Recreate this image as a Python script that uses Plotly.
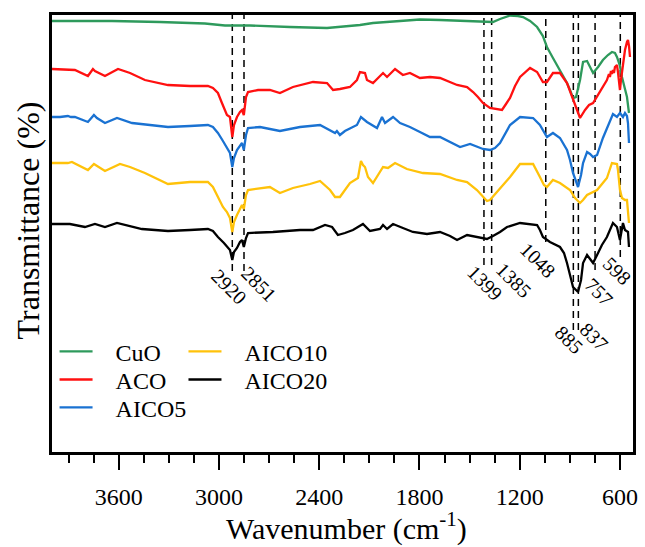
import plotly.graph_objects as go

# ---------------- data ----------------
cuo_wn = [3999, 3640, 3353, 3084, 2964, 2814, 2575, 2353, 2156, 2078, 1916, 1797, 1677, 1497, 1420, 1360, 1318,
          1258, 1210, 1180, 1138, 1096, 1061, 1037, 1001, 959, 917, 899, 881, 863, 839, 821, 797, 779, 761, 731,
          702, 672, 648, 630, 618, 600, 588, 570, 558, 546]
cuo_t = [431, 431, 430, 428.5, 426.5, 426.5, 425, 424, 427, 429, 431, 432.5, 432, 431, 430, 430, 433,
         436.5, 436, 435, 431, 425, 416, 405, 394, 382, 369, 362, 354, 355, 372, 390, 391, 385, 379, 385,
         392, 397, 400, 399, 395, 386, 375, 363, 355, 339]

aco_wn = [3999, 3951, 3862, 3784, 3754, 3742, 3682, 3604, 3532, 3443, 3305, 3173, 3066, 3036, 3006, 2982, 2952,
          2934, 2920, 2910, 2892, 2874, 2862, 2851, 2838, 2826, 2766, 2695, 2635, 2557, 2437, 2353, 2317, 2276,
          2216, 2174, 2156, 2126, 2114, 2078, 2036, 2018, 1994, 1946, 1899, 1857, 1797, 1737, 1677, 1617, 1575,
          1515, 1479, 1450, 1420, 1378, 1306, 1282, 1258, 1228, 1198, 1138, 1096, 1061, 1037, 1001, 959, 917,
          887, 863, 839, 809, 785, 761, 731, 702, 678, 666, 660, 654, 648, 642, 636, 630, 618, 612, 600, 594,
          582, 570, 558, 552, 546, 540]
aco_t = [383, 382.5, 382, 376, 383, 381, 376, 383, 379, 372, 367, 366, 366, 364, 359, 349, 337,
         335, 315, 327, 335, 340, 342, 337, 355, 360, 362, 362, 359, 365, 370, 369, 362, 363,
         365, 372, 380, 379, 372, 369, 376, 379, 375, 383, 377, 379, 374, 375, 374, 370, 367,
         365, 360, 355, 349, 344, 342, 348, 354, 366, 375, 384, 380, 370, 370, 379, 379, 369,
         355, 344, 334, 342, 347, 349, 357, 365, 372, 378, 375, 381, 378, 382, 379, 385, 387, 380, 362, 372,
         389, 402, 410, 412, 406, 395]

aico5_wn = [3999, 3951, 3904, 3886, 3862, 3784, 3748, 3730, 3682, 3610, 3520, 3413, 3305, 3173, 3066, 3036, 3006,
            2976, 2946, 2934, 2920, 2910, 2892, 2874, 2862, 2851, 2838, 2826, 2754, 2635, 2515, 2395, 2335, 2305,
            2294, 2276, 2246, 2174, 2150, 2114, 2054, 2024, 2006, 1958, 1916, 1857, 1797, 1737, 1677, 1599, 1557,
            1497, 1420, 1378, 1348, 1318, 1288, 1258, 1198, 1120, 1079, 1037, 1001, 959, 917, 899, 881, 851, 833,
            821, 797, 779, 761, 737, 702, 660, 642, 618, 600, 582, 570, 558, 552, 546]
aico5_t = [335, 335, 336, 335, 335, 330, 337, 334, 329, 334, 329, 327, 325, 326, 327, 325, 319,
           311, 302, 299, 285, 294, 302, 307, 309, 302, 317, 324, 325, 321, 325, 327, 322, 319,
           321, 317, 321, 327, 335, 330, 324, 335, 329, 335, 329, 325, 320, 315, 315, 309, 305,
           308, 303, 302, 304, 309, 318, 327, 335, 334, 327, 315, 319, 314, 302, 292, 279, 265, 277,
           289, 300, 298, 295, 297, 314, 332, 338, 335, 339, 335, 339, 336, 329, 309]

aico10_wn = [3999, 3951, 3904, 3880, 3784, 3748, 3730, 3682, 3592, 3532, 3443, 3305, 3173, 3066, 3036, 3006, 2976,
             2952, 2934, 2920, 2910, 2892, 2874, 2862, 2851, 2838, 2826, 2695, 2635, 2557, 2455, 2395, 2335, 2305,
             2276, 2216, 2168, 2150, 2138, 2126, 2108, 2078, 2018, 1988, 1946, 1875, 1779, 1677, 1575, 1515, 1456,
             1420, 1396, 1378, 1336, 1258, 1198, 1120, 1079, 1055, 1037, 1001, 959, 899, 869, 839, 821, 797, 737,
             678, 648, 618, 612, 600, 588, 570, 558, 552, 546]
aico10_t = [289, 289, 289, 290, 282, 288, 286, 281, 288, 285, 279, 268, 270, 270, 265, 255, 245,
            240, 234, 220, 230, 237, 243, 247, 243, 257, 262, 265, 259, 264, 268, 271, 262, 255,
            255, 269, 274, 291, 287, 285, 275, 269, 285, 284, 289, 283, 279, 278, 272, 270, 262,
            255, 251, 252, 260, 275, 288, 288, 275, 267, 265, 272, 269, 262, 254, 249, 252, 257, 262,
            274, 289, 288, 282, 262, 254, 252, 252, 240, 229]

aico20_wn = [3999, 3892, 3802, 3742, 3682, 3610, 3461, 3305, 3173, 3066, 3036, 3006, 2970, 2946, 2934, 2920, 2910,
             2892, 2874, 2862, 2851, 2838, 2826, 2677, 2515, 2437, 2365, 2323, 2288, 2246, 2198, 2138, 2096, 2036,
             2018, 1994, 1958, 1899, 1839, 1755, 1677, 1617, 1575, 1515, 1456, 1396, 1360, 1318, 1276, 1198, 1096,
             1079, 1061, 1019, 959, 935, 917, 899, 881, 851, 833, 821, 797, 779, 761, 737, 708, 678, 642, 618,
             600, 582, 570, 552, 546]
aico20_t = [228, 228, 225, 228, 225, 229, 223, 221, 222, 223, 221, 215, 209, 205, 202, 192, 200,
            204, 210, 212, 205, 214, 219, 220, 222, 222, 227, 225, 217, 219, 222, 228, 221, 223,
            227, 223, 228, 224, 220, 218, 220, 216, 212, 217, 215, 213, 216, 220, 225, 229, 227,
            222, 215, 210, 205, 199, 189, 177, 165, 160, 172, 189, 197, 193, 189, 197, 207, 215, 229, 225,
            212, 229, 222, 220, 205]

series_names = ["CuO", "ACO", "AICO5", "AICO10", "AICO20"]
series_colors = ["#2e9a5c", "#ff1010", "#1a72d2", "#ffc20a", "#000000"]

# peak marker lines (positions as drawn) and their labels
peak_wn = [2920, 2850, 1414, 1368, 1044, 879, 849, 749, 598]
peak_labels = ["2920", "2851", "1399", "1385", "1048", "885", "837", "757", "598"]
peak_line_end = [181, 181, 187, 187, 210, 122, 122, 182, 195]
peak_label_y = [165, 168, 169, 172, 192, 112, 115, 160, 181]
peak_label_dx = [-3, 15, 1, 22, -8, -4, 16, 4, -3]

x_tick_vals = [3600, 3000, 2400, 1800, 1200, 600]
x_range = [3999, 522]
y_range = [0, 437]

FONT = "Liberation Serif, Times New Roman, serif"

# legend layout: one legend box per entry (two columns)
legend_ids = ["legend", "legend2", "legend3", "legend4", "legend5"]
legend_x = [0.0044, 0.0044, 0.0044, 0.2263, 0.2263]
legend_y = [0.2293, 0.165, 0.1011, 0.2293, 0.165]

fig = go.Figure()
all_x = [cuo_wn, aco_wn, aico5_wn, aico10_wn, aico20_wn]
all_y = [cuo_t, aco_t, aico5_t, aico10_t, aico20_t]
for name, col, xs, ys, lg in zip(series_names, series_colors, all_x, all_y, legend_ids):
    fig.add_trace(go.Scatter(x=xs, y=ys, mode="lines", name="\u00a0\u00a0\u00a0" + name,
                             line=dict(color=col, width=2.3), legend=lg, showlegend=True))

for wn, lab, yend, ly, dx in zip(peak_wn, peak_labels, peak_line_end, peak_label_y, peak_label_dx):
    fig.add_shape(type="line", x0=wn, x1=wn, y0=yend, y1=y_range[1], xref="x", yref="y",
                  line=dict(color="black", width=1.5, dash="7px,5px"), layer="below")
    fig.add_annotation(x=wn, y=ly, xref="x", yref="y", text=lab, showarrow=False,
                       textangle=45, xshift=dx, font=dict(family=FONT, size=20, color="black"),
                       xanchor="center", yanchor="middle")

fig.add_annotation(x=0.5, y=0, xref="paper", yref="paper", text="Wavenumber (cm<sup>-1</sup>)",
                   showarrow=False, yshift=-74, xshift=4, yanchor="middle", xanchor="center",
                   font=dict(family=FONT, size=30, color="black"))
fig.add_annotation(x=0, y=0.53, xref="paper", yref="paper", text="Transmittance (%)",
                   showarrow=False, xshift=-24, textangle=-90, yanchor="middle", xanchor="center",
                   font=dict(family=FONT, size=32, color="black"))

legend_style = {}
for lid, lx, ly in zip(legend_ids, legend_x, legend_y):
    legend_style[lid] = dict(x=lx, y=ly, xanchor="left", yanchor="middle", bgcolor="rgba(0,0,0,0)",
                             font=dict(family=FONT, size=24, color="black"), itemwidth=33,
                             tracegroupgap=0, visible=True)

fig.update_layout(
    width=645, height=547,
    showlegend=True,
    margin=dict(l=52, r=12, t=15, b=95, autoexpand=False),
    paper_bgcolor="white", plot_bgcolor="white",
    font=dict(family=FONT, color="black"),
    xaxis=dict(range=x_range, tickvals=x_tick_vals, ticktext=[str(v) for v in x_tick_vals],
               showline=True, linecolor="black", linewidth=3, mirror=True,
               ticks="outside", ticklen=15, tickwidth=2, tickcolor="black",
               ticklabelstandoff=6, automargin=False,
               tickfont=dict(family=FONT, size=24, color="black"),
               showgrid=False, zeroline=False,
               minor=dict(ticks="outside", ticklen=8, tickwidth=2, tickcolor="black",
                          tick0=600, dtick=150, showgrid=False)),
    yaxis=dict(range=y_range, showline=True, linecolor="black", linewidth=3, mirror=True,
               showticklabels=False, ticks="", showgrid=False, zeroline=False, automargin=False),
    **legend_style,
)

fig.write_html("out.html")
